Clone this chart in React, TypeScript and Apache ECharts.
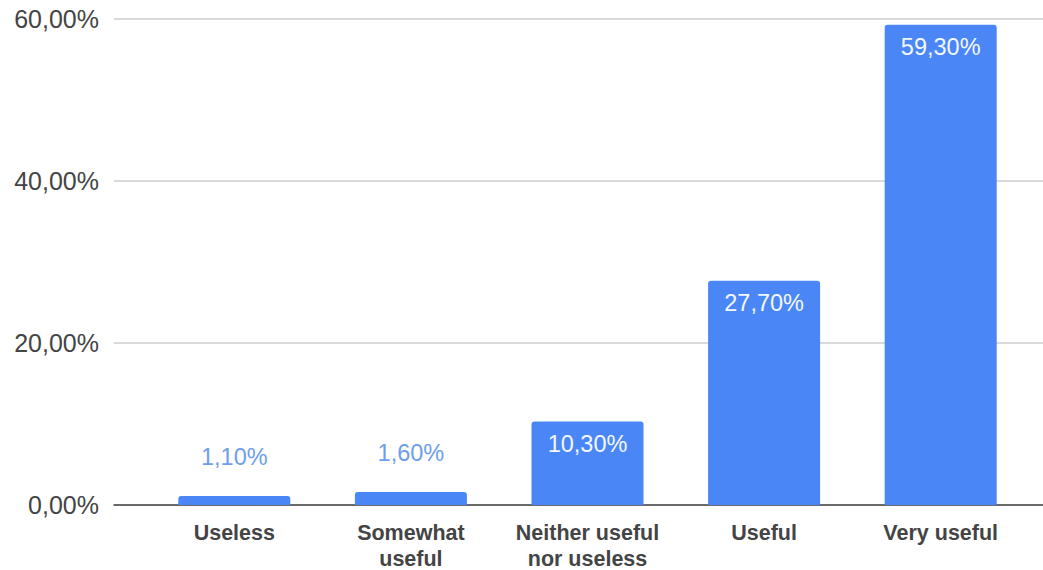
import React, { useEffect, useRef } from "react";
import * as echarts from "echarts";

const categories = ["Useless", "Somewhat\nuseful", "Neither useful\nnor useless", "Useful", "Very useful"];
const values = [1.1, 1.6, 10.3, 27.7, 59.3];
const yTicks = { min: 0, max: 60, interval: 20 };

const fmt = (v: number) => v.toFixed(2).replace(".", ",") + "%";

export default function App() {
  const ref = useRef<HTMLDivElement>(null);
  useEffect(() => {
    if (!ref.current) return;
    const chart = echarts.init(ref.current, null, { renderer: "svg" });
    const font = "'Liberation Sans', Arial, sans-serif";
    const data = values.map((v) =>
      v < 5
        ? {
            value: v,
            label: { position: "top", distance: 27, color: "#6d9eeb" },
          }
        : { value: v }
    );
    chart.setOption({
      animation: false,
      backgroundColor: "#ffffff",
      grid: [
        { left: 114, right: 0, top: 19, bottom: 65, outerBoundsMode: "none", containLabel: false },
        { left: 146, right: 14, top: 19, bottom: 65, outerBoundsMode: "none", containLabel: false },
      ],
      xAxis: [
        {
          type: "value",
          gridIndex: 0,
          min: 0,
          max: 1,
          axisLine: { show: true, onZero: true, lineStyle: { color: "#444", width: 1.5 } },
          axisTick: { show: false },
          axisLabel: { show: false },
          splitLine: { show: false },
        },
        {
          type: "category",
          gridIndex: 1,
          data: categories,
          axisLine: { show: false },
          axisTick: { show: false },
          axisLabel: {
            color: "#444",
            fontFamily: font,
            fontWeight: "bold",
            fontSize: 21.5,
            lineHeight: 26,
            margin: 15,
            interval: 0,
          },
        },
      ],
      yAxis: [
        {
          type: "value",
          gridIndex: 0,
          min: yTicks.min,
          max: yTicks.max,
          interval: yTicks.interval,
          axisLine: { show: false },
          axisTick: { show: false },
          axisLabel: {
            formatter: (v: number) => fmt(v),
            color: "#444",
            fontFamily: font,
            fontSize: 25,
            margin: 15,
          },
          splitLine: { lineStyle: { color: "#cccccc", width: 1.5 } },
        },
        {
          type: "value",
          gridIndex: 1,
          min: yTicks.min,
          max: yTicks.max,
          interval: yTicks.interval,
          show: false,
          splitLine: { show: false },
        },
      ],
      series: [
        {
          type: "bar",
          xAxisIndex: 1,
          yAxisIndex: 1,
          data,
          barWidth: 112,
          itemStyle: { color: "#4a86f5", borderRadius: [3, 3, 0, 0] },
          label: {
            show: true,
            position: "insideTop",
            distance: 10,
            formatter: (p: any) => fmt(p.value),
            color: "#f4f8ff",
            fontFamily: font,
            fontSize: 23.5,
          },
        },
      ],
    });
    return () => chart.dispose();
  }, []);
  return (
    <div style={{ position: "absolute", left: 0, top: 0 }}>
      <div ref={ref} style={{ width: 1043, height: 570 }} />
    </div>
  );
}
